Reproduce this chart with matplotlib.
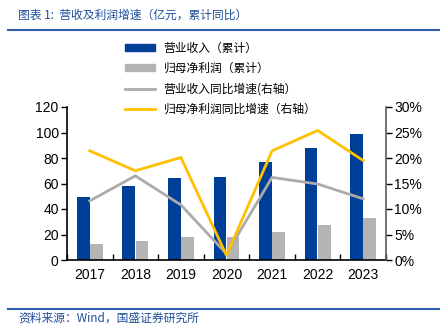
import numpy as np
import matplotlib.pyplot as plt
from matplotlib.lines import Line2D
from matplotlib.patches import Patch

plt.rcParams['font.family'] = ['Liberation Sans', 'Noto Sans CJK SC', 'DejaVu Sans']

# data
years = ['2017', '2018', '2019', '2020', '2021', '2022', '2023']
revenue = [49.6, 58.0, 64.3, 65.4, 76.6, 87.8, 98.8]
profit = [12.5, 15.0, 18.0, 17.8, 21.7, 27.5, 33.0]
rev_yoy = [11.6, 16.5, 10.8, 1.2, 16.2, 14.9, 12.0]
profit_yoy = [21.4, 17.5, 20.1, 0.9, 21.4, 25.4, 19.5]

blue = '#003F98'
gray_bar = '#B4B4B4'
gray_line = '#ABABAB'
yellow = '#FFC000'
title_blue = '#1F4E9A'
cjk = ['Noto Sans CJK SC', 'DejaVu Sans']

fig = plt.figure(figsize=(4.4, 3.27), dpi=100)
ax = fig.add_axes([67/440, 1 - 260/327, 319/440, 153/327])
ax2 = ax.twinx()

x = np.arange(len(years))
w = 0.28
ax.bar(x - 0.145, revenue, w, color=blue, zorder=2)
ax.bar(x + 0.145, profit, w, color=gray_bar, zorder=2)
ax2.plot(x, rev_yoy, color=gray_line, lw=2)
ax2.plot(x, profit_yoy, color=yellow, lw=2)

ax.set_xlim(-0.5, 6.5)
ax.set_ylim(0, 120)
ax.set_yticks(range(0, 121, 20))
ax2.set_ylim(0, 30)
ax2.set_yticks(range(0, 31, 5))
ax2.set_yticklabels([f'{v}%' for v in range(0, 31, 5)])

ax.set_xticks(x)
ax.set_xticklabels(years)
ax.set_xticks(np.arange(-0.5, 7, 1), minor=True)
ax.tick_params(axis='x', which='major', length=0, pad=6, labelsize=10)
ax.tick_params(axis='x', which='minor', direction='in', length=4, width=1)
ax.tick_params(axis='y', direction='out', length=4, width=1, labelsize=10, pad=2)
ax2.tick_params(axis='y', direction='out', length=4, width=1, labelsize=10, pad=2)

for a in (ax, ax2):
    a.spines['top'].set_visible(False)
ax.spines['right'].set_visible(False)
ax2.spines['left'].set_visible(False)
ax2.spines['bottom'].set_visible(False)
ax.spines['left'].set_linewidth(1.2)
ax.spines['bottom'].set_linewidth(1.2)
ax2.spines['right'].set_color('#595959')
ax2.spines['right'].set_linewidth(1.2)

# legend
handles = [
    Patch(color=blue),
    Patch(color=gray_bar),
    Line2D([], [], color=gray_line, lw=2),
    Line2D([], [], color=yellow, lw=2),
]
labels = ['营业收入（累计）', '归母净利润（累计）', '营业收入同比增速(右轴）', '归母净利润同比增速（右轴）']
fig.legend(handles, labels, loc='upper left', bbox_to_anchor=(120/440, 1 - 37/327),
           frameon=False, prop={'family': cjk, 'size': 8.5}, handlelength=2.6,
           handleheight=0.5, labelspacing=0.62, borderaxespad=0, handletextpad=0.7)

# title and source
fig.text(18/440, 1 - 15/327, '图表 1:  营收及利润增速（亿元，累计同比）', family=cjk,
         fontsize=8.5, style='italic', color=title_blue, va='center')
fig.add_artist(Line2D([8/440, 1], [1 - 30/327, 1 - 30/327], color='#2F5FAE', lw=1.5))
fig.add_artist(Line2D([8/440, 1], [1 - 309/327, 1 - 309/327], color='#2F5FAE', lw=1.5))
fig.text(18/440, 1 - 318/327, '资料来源：Wind，国盛证券研究所', family=cjk,
         fontsize=8.5, style='italic', color=title_blue, va='center')

fig.savefig('out.png', dpi=100)
